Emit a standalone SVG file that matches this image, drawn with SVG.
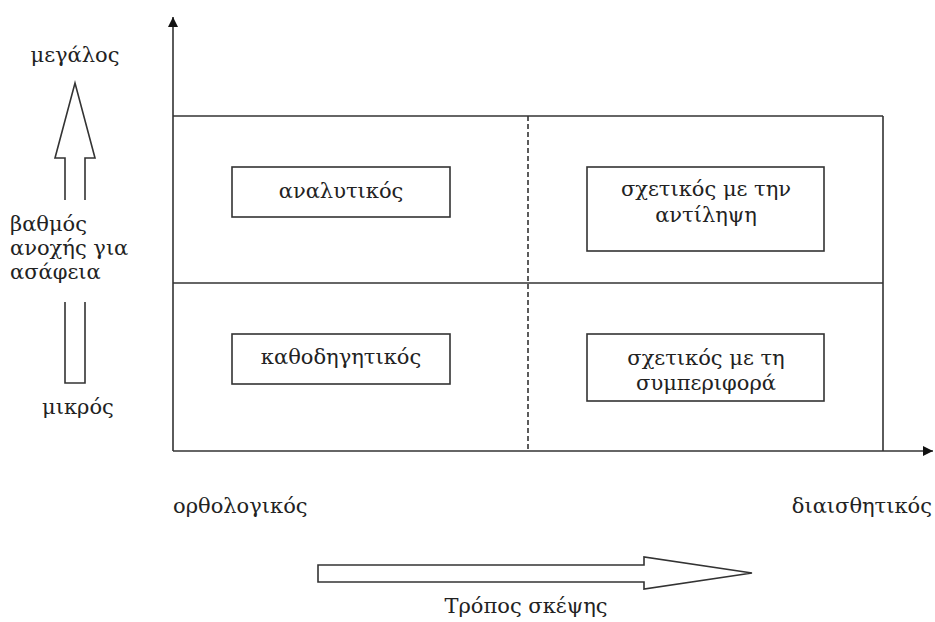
<svg xmlns="http://www.w3.org/2000/svg" width="935" height="622" viewBox="0 0 935 622">
<defs>
<style>
.t{font-family:"DejaVu Serif","Liberation Serif",serif;font-size:21px;fill:#222}
.m{text-anchor:middle}
.ln{stroke:#333;stroke-width:1.6;fill:none}
.bx{stroke:#333;stroke-width:1.6;fill:#fff}
.dash{stroke:#333;stroke-width:1.6;stroke-dasharray:5,3;fill:none}
</style>
<marker id="ah" viewBox="0 0 10 10" refX="10" refY="5" markerWidth="10" markerHeight="10" markerUnits="userSpaceOnUse" orient="auto">
<path d="M0,0 L10,5 L0,10 Z" fill="#111"/>
</marker>
</defs>
<rect width="935" height="622" fill="#fff"/>
<g id="connectors">
<line class="ln" x1="173" y1="451" x2="173" y2="17" marker-end="url(#ah)"/>
<line class="ln" x1="173" y1="451" x2="933" y2="451" marker-end="url(#ah)"/>
<line class="ln" x1="173" y1="116" x2="883" y2="116"/>
<line class="ln" x1="173" y1="283" x2="883" y2="283"/>
<line class="ln" x1="883" y1="116" x2="883" y2="451"/>
<line class="dash" x1="528" y1="116" x2="528" y2="451"/>
</g>
<g id="node-analytikos">
<rect class="bx" x="232" y="167" width="218" height="50"/>
<text class="t m" x="341" y="198">αναλυτικός</text>
</g>
<g id="node-antilipsi">
<rect class="bx" x="587" y="167" width="237" height="84"/>
<text class="t m" x="706" y="196">σχετικός με την</text>
<text class="t m" x="706" y="222">αντίληψη</text>
</g>
<g id="node-kathodigitikos">
<rect class="bx" x="232" y="334" width="218" height="50"/>
<text class="t m" x="341" y="364">καθοδηγητικός</text>
</g>
<g id="node-symperifora">
<rect class="bx" x="587" y="334" width="237" height="67"/>
<text class="t m" x="706" y="365">σχετικός με τη</text>
<text class="t m" x="706" y="390">συμπεριφορά</text>
</g>
<g id="y-label">
<text class="t m" x="75" y="62">μεγάλος</text>
<path class="bx" d="M65,200 L65,158 L55,158 L75,83 L95,158 L85,158 L85,200"/>
<text class="t" x="10" y="231">βαθμός</text>
<text class="t" x="10" y="255">ανοχής για</text>
<text class="t" x="10" y="279">ασάφεια</text>
<path class="bx" d="M65,302 L65,383 L85,383 L85,302"/>
<text class="t m" x="78" y="414">μικρός</text>
</g>
<g id="x-label">
<text class="t" x="173" y="513">ορθολογικός</text>
<text class="t" x="932" y="513" text-anchor="end">διαισθητικός</text>
<path class="bx" d="M318,565 L644,565 L644,557 L752,573 L644,589 L644,582 L318,582 Z"/>
<text class="t m" x="526" y="613">Τρόπος σκέψης</text>
</g>
</svg>
